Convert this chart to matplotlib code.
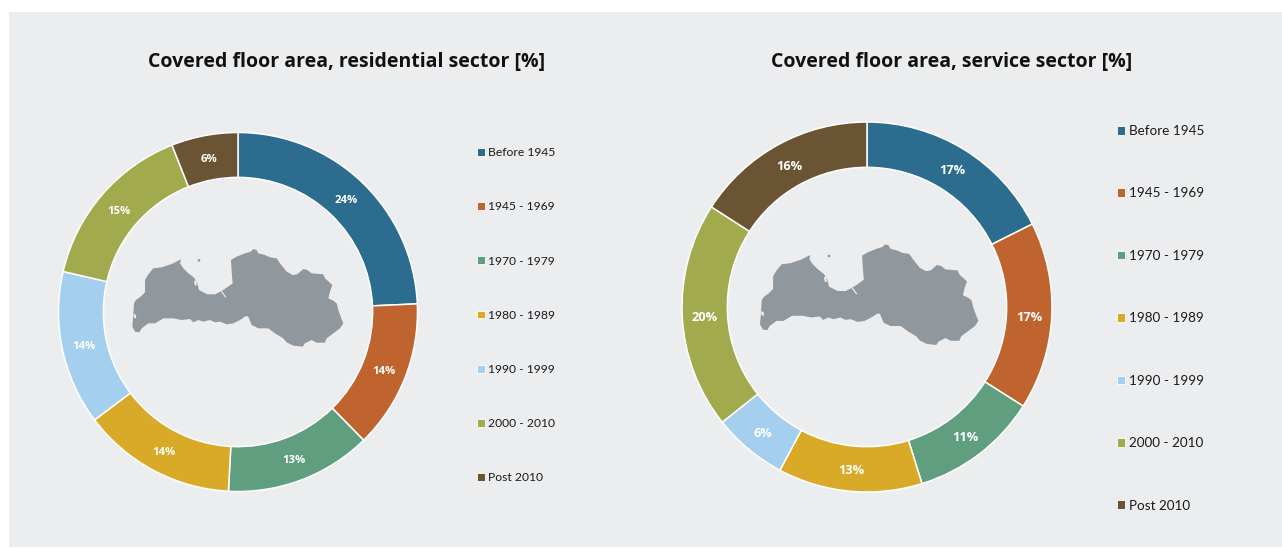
import numpy as np
import matplotlib
matplotlib.use('Agg')
import matplotlib.pyplot as plt
from matplotlib.patches import Patch, Polygon, Rectangle, Circle

W, H = 1282, 548

periods = ['Before 1945', '1945 - 1969', '1970 - 1979', '1980 - 1989',
           '1990 - 1999', '2000 - 2010', 'Post 2010']
residential = [24.3, 13.4, 13.2, 13.9, 13.9, 15.4, 6.0]
residential_labels = ['24%', '14%', '13%', '14%', '14%', '15%', '6%']
service = [17.6, 16.4, 11.2, 12.6, 6.5, 19.8, 15.9]
service_labels = ['17%', '17%', '11%', '13%', '6%', '20%', '16%']

colors = ['#2B6C8F', '#BF642E', '#5F9F7F', '#D9A928', '#A5CFEE', '#A2AA4E', '#6B5434']
bg = '#ECEDEF'
map_color = '#90979D'

# outline of Latvia, traced in pixels of a 3x crop
latvia = [(42,205),(48,195),(62,185),(75,172),(75,135),(85,118),(100,100),(125,97),(155,87),
          (183,73),(180,85),(190,100),(205,115),(222,128),(232,145),(237,165),(250,172),(262,178),
          (285,178),(305,168),(320,158),(338,145),(335,110),(333,75),(350,65),(375,55),(392,50),
          (400,42),(410,45),(415,55),(435,60),(450,67),(470,70),(480,85),(492,100),(500,110),
          (518,120),(532,118),(550,102),(562,105),(575,115),(610,118),(615,130),(637,150),(630,170),
          (625,190),(640,197),(650,205),(655,225),(662,245),(670,265),(660,280),(640,295),(620,310),
          (615,323),(590,323),(575,315),(555,325),(548,335),(520,332),(500,322),(490,310),(465,295),
          (445,280),(415,280),(395,270),(385,245),(378,243),(360,255),(340,265),(320,268),(300,260),
          (285,262),(270,255),(250,260),(235,255),(220,262),(210,252),(185,255),(160,250),(130,250),
          (105,265),(85,265),(65,280),(58,292),(45,290),(37,275),(40,240)]
lake = [(222,138),(228,136),(231,150),(225,152)]
lake2 = [(40,238),(47,238),(49,250),(42,249)]
river = [(303,170),(306,168),(319,186),(316,188)]

plt.rcParams['font.family'] = ['Open Sans', 'DejaVu Sans']

fig = plt.figure(figsize=(W / 100, H / 100), dpi=100, facecolor='white')

# pixel canvas for the panel and the maps
canvas = fig.add_axes([0, 0, 1, 1])
canvas.set_xlim(0, W)
canvas.set_ylim(H, 0)
canvas.axis('off')
canvas.add_patch(Rectangle((9, 12), W - 9, 535, facecolor=bg, edgecolor='none'))


def draw_map(to_px):
    canvas.add_patch(Polygon(to_px(latvia), closed=True, facecolor=map_color, edgecolor='none', zorder=2))
    for hole in (lake, lake2, river):
        canvas.add_patch(Polygon(to_px(hole), closed=True, facecolor=bg, edgecolor='none', zorder=3))
    canvas.add_patch(Circle(to_px([(237, 76)])[0], 1.3, facecolor=map_color, edgecolor='none', zorder=3))


def left_map(pts):
    return np.array([(120 + u / 3, 235 + v / 3) for u, v in pts])


def right_map(pts):
    return np.array([(750 + (30 + (u - 37) * 1.035) / 3, 235 + (28 + (v - 42) * 1.03) / 3) for u, v in pts])


draw_map(left_map)
draw_map(right_map)


def donut(cx, cy, r, hole, values, labels, label_size, edge):
    ax = fig.add_axes([(cx - r) / W, 1 - (cy + r) / H, 2 * r / W, 2 * r / H])
    ax.patch.set_alpha(0)
    wedges, _ = ax.pie(values, colors=colors, startangle=90, counterclock=False, radius=1,
                       wedgeprops=dict(width=1 - hole, edgecolor='white', linewidth=edge))
    ax.set_xlim(-1, 1)
    ax.set_ylim(-1, 1)
    mid = (1 + hole) / 2
    nudge = 2 / r  # labels sit about 2px lower than the ring centre
    for w, lab in zip(wedges, labels):
        a = np.deg2rad((w.theta1 + w.theta2) / 2)
        ax.text(mid * np.cos(a), mid * np.sin(a) - nudge, lab, ha='center', va='center',
                color='white', fontsize=label_size, fontweight='bold')
    return wedges


w1 = donut(238, 312, 179.5, 0.75, residential, residential_labels, 8.2, 1.1)
w2 = donut(867, 307, 185, 0.755, service, service_labels, 9.2, 1.1)


def legend(x, y_top, y_bottom, size, family):
    handles = [Patch(facecolor=c, edgecolor='white', linewidth=0.6) for c in colors]
    step = (y_bottom - y_top) / (len(periods) - 1)
    spacing = (step / (size * 100 / 72)) - 0.86
    leg = fig.legend(handles, periods, loc='center left',
                     bbox_to_anchor=(x / W, 1 - (y_top + y_bottom) / 2 / H),
                     frameon=False, labelspacing=spacing,
                     handlelength=0.62, handleheight=0.62, handletextpad=0.3,
                     borderpad=0, borderaxespad=0, prop={'family': family, 'size': size})
    for t in leg.get_texts():
        t.set_color('#1a1a1a')


legend(477, 154.5, 476, 8.75, 'Lato')
legend(1117, 132, 504.5, 9.75, 'Lato')

canvas.text(347, 62, 'Covered floor area, residential sector [%]', ha='center', va='center',
            fontsize=14.05, fontweight='bold', color='#111111')
canvas.text(952, 62, 'Covered floor area, service sector [%]', ha='center', va='center',
            fontsize=14.05, fontweight='bold', color='#111111')

fig.savefig('out.png', dpi=100, facecolor='white')
